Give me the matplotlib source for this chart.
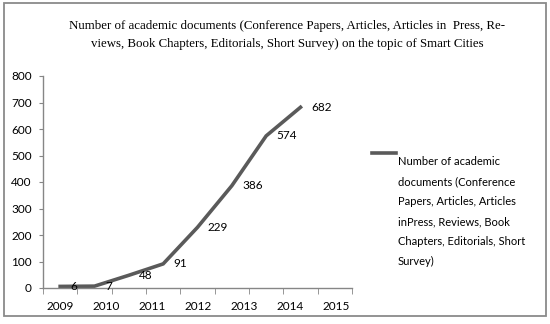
import matplotlib
matplotlib.use("Agg")
import matplotlib.pyplot as plt
from matplotlib.lines import Line2D
from matplotlib.patches import Rectangle
import numpy as np

values = [6, 7, 48, 91, 229, 386, 574, 682]
year_labels = ["2009", "2010", "2011", "2012", "2013", "2014", "2015"]
title = ("Number of academic documents (Conference Papers, Articles, Articles in  Press, Re-\n"
         "views, Book Chapters, Editorials, Short Survey) on the topic of Smart Cities")
legend_label = ("Number of academic\ndocuments (Conference\nPapers, Articles, Articles\n"
                "inPress, Reviews, Book\nChapters, Editorials, Short\nSurvey)")

W, H = 550, 324
fig = plt.figure(figsize=(W / 100, H / 100), dpi=100)
fig.patch.set_facecolor("white")

# outer frame
fig.add_artist(Rectangle((4 / W, 1 - 316 / H), 542 / W, 313 / H, transform=fig.transFigure,
                         fill=False, edgecolor="#8a8a8a", linewidth=1.3))

ax = fig.add_axes([43 / W, 1 - 288 / H, 309 / W, 212 / H])
font = "Lato"
line_color = "#5a5a5a"
axis_color = "#868686"

x = np.arange(len(values))
ax.plot(x, values, color=line_color, linewidth=2.6, solid_joinstyle="miter")
for xi, v in zip(x, values):
    ax.annotate(str(v), (xi, v), xytext=(7.5, 0), textcoords="offset points",
                ha="left", va="center", fontsize=8.5, family=font, color="black")

ax.set_xlim(-0.5, 8.5)
ax.set_ylim(0, 800)
ax.set_yticks(np.arange(0, 801, 100))
ax.tick_params(axis="y", labelsize=8.5, length=3, color=axis_color, pad=5)
for lab in ax.get_yticklabels():
    lab.set_family(font)

# category boundary ticks
ax.set_xticks(np.arange(-0.5, 8.6, 1.0), minor=True)
ax.tick_params(axis="x", which="minor", length=4, color=axis_color, direction="out")
label_pos = np.linspace(0.0, 8.03, len(year_labels))
ax.set_xticks(label_pos)
ax.set_xticklabels(year_labels, family=font, fontsize=8.5)
ax.tick_params(axis="x", which="major", length=0, pad=9)

for s in ["top", "right"]:
    ax.spines[s].set_visible(False)
for s in ["left", "bottom"]:
    ax.spines[s].set_color(axis_color)
    ax.spines[s].set_linewidth(1.0)

fig.text(287 / W, 1 - 35 / H, title, ha="center", va="center", family="Liberation Serif",
         fontsize=9.3, linespacing=1.75)

# legend
fig.add_artist(Line2D([372 / W, 396 / W], [1 - 153 / H, 1 - 153 / H], transform=fig.transFigure,
                      color=line_color, linewidth=2.6))
fig.text(398 / W, 1 - 156 / H, legend_label, ha="left", va="top", family=font, fontsize=8,
         linespacing=2.0)

fig.savefig("out.png", dpi=100)
